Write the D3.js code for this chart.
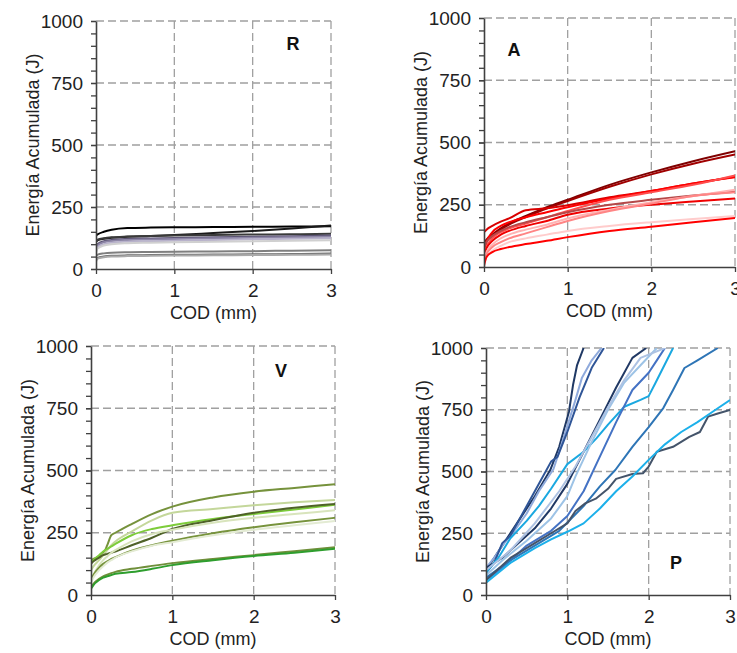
<!DOCTYPE html>
<html>
<head>
<meta charset="utf-8">
<script src="https://cdn.jsdelivr.net/npm/d3@7"></script>
<style>
  body { margin: 0; background: #fff; }
  svg { font-family: Arial, "Liberation Sans", sans-serif; }
</style>
</head>
<body>
<svg id="chart" width="737" height="653"></svg>
<script>
// ---- data ----
const codTicks = [0, 1, 2, 3]
const energyTicks = [0, 250, 500, 750, 1000]

// R: shared COD grid
const codR = [0, 0.02, 0.1, 0.2, 0.4, 0.7, 1, 1.5, 2, 2.5, 3]
const energyR = [
  [136, 140, 150, 158, 165, 167, 168, 169, 170, 171, 172],
  [110, 115, 122, 126, 130, 133, 137, 145, 153, 163, 175],
  [112, 118, 124, 128, 131, 133, 135, 137, 139, 140, 142],
  [85, 100, 112, 117, 121, 123, 125, 128, 130, 132, 135],
  [75, 95, 108, 113, 117, 119, 121, 124, 126, 128, 130],
  [70, 88, 100, 106, 110, 112, 114, 117, 120, 122, 124],
  [65, 82, 95, 100, 104, 106, 108, 110, 112, 114, 116],
  [50, 58, 63, 66, 68, 69, 70, 71, 72, 74, 76],
  [35, 45, 50, 53, 55, 56, 57, 58, 59, 60, 62],
  [30, 42, 47, 50, 52, 53, 54, 55, 56, 57, 58]
]

// A
const codA = [0, 0.03, 0.1, 0.2, 0.3, 0.5, 0.75, 1, 1.5, 2, 2.5, 3]
const energyA = [
  [95, 110, 130, 155, 175, 205, 240, 270, 330, 380, 425, 465],
  [90, 105, 125, 150, 170, 200, 235, 265, 322, 372, 415, 452],
  [140, 150, 165, 182, 195, 228, 236, 248, 280, 305, 335, 362],
  [60, 100, 140, 165, 180, 200, 220, 240, 275, 305, 335, 360],
  [40, 80, 115, 140, 155, 175, 200, 225, 270, 300, 330, 368],
  [80, 100, 125, 145, 160, 180, 200, 220, 250, 270, 287, 302],
  [50, 75, 105, 130, 145, 165, 185, 210, 235, 250, 263, 275],
  [30, 60, 90, 115, 130, 150, 170, 195, 230, 260, 285, 310],
  [20, 50, 80, 100, 115, 135, 160, 185, 225, 255, 285, 300],
  [10, 40, 65, 85, 100, 115, 130, 145, 165, 180, 193, 205],
  [5, 40, 60, 72, 80, 92, 105, 120, 145, 162, 180, 197]
]

// V
const codV = [0, 0.03, 0.1, 0.15, 0.2, 0.25, 0.3, 0.5, 0.75, 1, 1.5, 2, 2.5, 3]
const energyV = [
  [140, 145, 155, 165, 200, 240, 250, 285, 325, 355, 392, 415, 430, 445],
  [100, 115, 140, 160, 180, 200, 215, 255, 300, 330, 345, 360, 372, 382],
  [130, 140, 160, 175, 185, 195, 205, 240, 265, 280, 305, 325, 343, 362],
  [125, 135, 150, 160, 165, 170, 175, 200, 230, 265, 300, 330, 350, 365],
  [60, 80, 120, 140, 155, 170, 180, 215, 245, 262, 290, 310, 325, 340],
  [60, 80, 110, 125, 135, 145, 152, 178, 200, 218, 248, 272, 292, 310],
  [50, 70, 100, 115, 130, 140, 150, 175, 198, 212, 240, 262, 280, 297],
  [30, 45, 65, 75, 82, 88, 93, 105, 117, 128, 145, 160, 176, 192],
  [25, 40, 60, 70, 75, 80, 85, 92, 105, 120, 140, 157, 170, 186]
]

// P: [COD, energy] pairs, each test has its own readings
const pointsP = [
  [[0, 100], [0.2, 200], [0.4, 300], [0.6, 400], [0.79, 506], [0.9, 600], [1.02, 742], [1.07, 850], [1.12, 931], [1.2, 1000]],
  [[0, 110], [0.1, 150], [0.2, 200], [0.35, 260], [0.5, 330], [0.65, 420], [0.83, 510], [0.92, 600], [1.01, 695], [1.1, 790], [1.18, 880], [1.3, 950], [1.42, 1000]],
  [[0, 90], [0.1, 130], [0.2, 210], [0.3, 240], [0.45, 330], [0.6, 420], [0.8, 540], [0.88, 560], [1.0, 660], [1.15, 800], [1.3, 920], [1.45, 1000]],
  [[0, 110], [0.2, 150], [0.4, 210], [0.6, 270], [0.8, 350], [1.0, 450], [1.2, 580], [1.4, 710], [1.6, 840], [1.8, 960], [1.97, 1000]],
  [[0, 90], [0.15, 150], [0.3, 230], [0.5, 300], [0.65, 360], [0.8, 430], [1.0, 530], [1.2, 580], [1.36, 635], [1.5, 690], [1.7, 762], [1.9, 790], [2.0, 805], [2.08, 856], [2.3, 1000]],
  [[0, 60], [0.2, 110], [0.5, 200], [0.8, 260], [1.0, 320], [1.2, 420], [1.4, 560], [1.6, 700], [1.8, 830], [2.0, 900], [2.1, 950], [2.2, 1000]],
  [[0, 80], [0.2, 140], [0.5, 220], [0.8, 310], [1.0, 400], [1.1, 480], [1.3, 620], [1.5, 750], [1.7, 860], [1.9, 930], [2.1, 1000]],
  [[0, 100], [0.3, 180], [0.6, 290], [0.9, 420], [1.1, 520], [1.3, 640], [1.5, 760], [1.7, 870], [1.9, 960], [2.2, 1000]],
  [[0, 70], [0.3, 140], [0.6, 200], [0.9, 260], [1.2, 360], [1.4, 440], [1.59, 506], [1.8, 600], [2.0, 680], [2.18, 757], [2.3, 830], [2.44, 919], [2.6, 950], [2.85, 1000]],
  [[0, 60], [0.3, 150], [0.6, 210], [0.8, 250], [1.0, 290], [1.1, 340], [1.22, 371], [1.35, 390], [1.5, 430], [1.6, 470], [1.8, 490], [1.93, 493], [2.0, 520], [2.1, 580], [2.3, 600], [2.5, 640], [2.63, 660], [2.73, 722], [2.85, 735], [3.0, 749]],
  [[0, 50], [0.3, 130], [0.6, 190], [0.8, 225], [1.0, 256], [1.2, 290], [1.4, 350], [1.6, 420], [1.8, 480], [2.0, 547], [2.2, 610], [2.4, 660], [2.6, 700], [2.8, 745], [3.0, 789]]
]

// ---- colours ----
const colorsR = ["#000000", "#1a1a1a", "#3a3a3a", "#5c5474", "#8d86a6", "#b8b2cb", "#d0d0d0", "#7f7f7f", "#6a6a6a", "#a9a9a9"]
const colorsA = ["#7f0000", "#a00000", "#d80000", "#ff0000", "#ff4d4d", "#b54848", "#f00000", "#ffb3b3", "#ff8585", "#ffcccc", "#ff0000"]
const colorsV = ["#76923c", "#c4d79b", "#7dcc3a", "#4f6228", "#d8e4bc", "#77933c", "#e3ebd3", "#6f8f3a", "#2e9e2e"]
const colorsP = ["#1f3864", "#8faadc", "#2f5597", "#203864", "#1aa8e0", "#4472c4", "#9dc3e6", "#adc2e3", "#2e75b6", "#44546a", "#1cb0ea"]

const svg = d3.select("#chart")

// panel boxes (pixels): left, right, top, bottom
const panels = [
  {box: [96, 331, 21, 269], label: "R", lx: 293, ly: 50, lines: energyR.map(s => s.map((v, i) => [codR[i], v])), colors: colorsR, smooth: true},
  {box: [484, 735, 18, 267], label: "A", lx: 514, ly: 56, lines: energyA.map(s => s.map((v, i) => [codA[i], v])), colors: colorsA, smooth: true},
  {box: [91, 335, 346, 595], label: "V", lx: 281, ly: 377, lines: energyV.map(s => s.map((v, i) => [codV[i], v])), colors: colorsV, smooth: true},
  {box: [486, 730, 348, 595], label: "P", lx: 676, ly: 569, lines: pointsP, colors: colorsP, smooth: false}
]

panels.forEach((p, k) => {
  const [l, r, t, b] = p.box
  const x = d3.scaleLinear().domain([0, 3]).range([l, r])
  const y = d3.scaleLinear().domain([0, 1000]).range([b, t])
  const g = svg.append("g")

  // dashed grid
  g.append("g").selectAll("line")
    .data(codTicks.slice(1))
    .join("line")
    .attr("x1", d => x(d)).attr("x2", d => x(d))
    .attr("y1", t).attr("y2", b)
    .attr("stroke", "#a0a0a0").attr("stroke-width", 1.3).attr("stroke-dasharray", "8,4")
  g.append("g").selectAll("line")
    .data(energyTicks.slice(1))
    .join("line")
    .attr("x1", l).attr("x2", r)
    .attr("y1", d => y(d)).attr("y2", d => y(d))
    .attr("stroke", "#a0a0a0").attr("stroke-width", 1.3).attr("stroke-dasharray", "8,4")

  // series, clipped to plot area
  const clipId = "clip" + k
  svg.append("clipPath").attr("id", clipId)
    .append("rect").attr("x", l).attr("y", t).attr("width", r - l).attr("height", b - t)

  const line = d3.line()
    .x(d => x(d[0]))
    .y(d => y(d[1]))
    .curve(p.smooth ? d3.curveMonotoneX : d3.curveLinear)

  g.append("g").attr("clip-path", `url(#${clipId})`)
    .selectAll("path")
    .data(p.lines)
    .join("path")
    .attr("d", line)
    .attr("fill", "none")
    .attr("stroke", (d, i) => p.colors[i])
    .attr("stroke-width", 2)
    .attr("stroke-linejoin", "round")

  // minor y ticks
  g.append("g")
    .attr("transform", `translate(${l},0)`)
    .call(d3.axisLeft(y).tickValues(d3.range(0, 1001, 50)).tickSize(5).tickFormat(""))
    .call(a => a.select(".domain").remove())
    .call(a => a.selectAll("line").attr("stroke", "#404040").attr("stroke-width", 1.3))

  // y axis
  g.append("g")
    .attr("transform", `translate(${l},0)`)
    .call(d3.axisLeft(y).tickValues(energyTicks).tickSize(5).tickSizeOuter(0).tickPadding(8).tickFormat(d3.format("d")))
    .call(a => a.select(".domain").attr("stroke", "#404040").attr("stroke-width", 1.6))
    .call(a => a.selectAll("line").attr("stroke", "#404040").attr("stroke-width", 1.3))
    .call(a => a.selectAll("text").attr("font-size", 19).attr("fill", "#222"))

  // x axis
  g.append("g")
    .attr("transform", `translate(0,${b})`)
    .call(d3.axisBottom(x).tickValues(codTicks).tickSize(5).tickSizeOuter(0).tickPadding(10).tickFormat(d3.format("d")))
    .call(a => a.select(".domain").attr("stroke", "#404040").attr("stroke-width", 1.6))
    .call(a => a.selectAll("line").attr("stroke", "#404040").attr("stroke-width", 1.3))
    .call(a => a.selectAll("text").attr("font-size", 19).attr("fill", "#222"))

  // axis titles
  g.append("text")
    .attr("x", (l + r) / 2).attr("y", b + 50)
    .attr("text-anchor", "middle").attr("font-size", 18).attr("fill", "#222")
    .text("COD (mm)")
  g.append("text")
    .attr("transform", `translate(${l - 57},${(t + b) / 2}) rotate(-90)`)
    .attr("text-anchor", "middle").attr("font-size", 18).attr("fill", "#222")
    .text("Energía Acumulada (J)")

  // panel letter
  g.append("text")
    .attr("x", p.lx).attr("y", p.ly)
    .attr("text-anchor", "middle").attr("font-size", 18).attr("font-weight", "bold").attr("fill", "#111")
    .text(p.label)
})
</script>
</body>
</html>
